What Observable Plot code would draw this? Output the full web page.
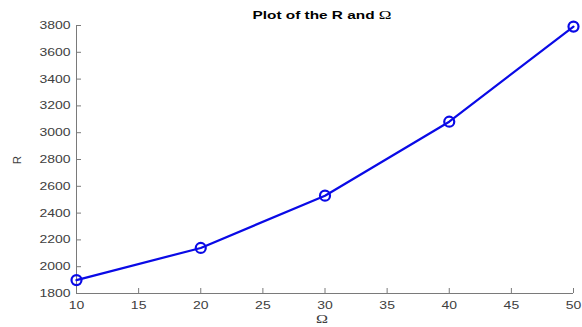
<!DOCTYPE html>
<html>
<head>
<meta charset="utf-8">
<script src="https://cdn.jsdelivr.net/npm/d3@7"></script>
<script src="https://cdn.jsdelivr.net/npm/@observablehq/plot@0.6"></script>
<style>
  html, body { margin: 0; padding: 0; background: #fff; }
  #chart { position: relative; width: 582px; height: 327px; }
  .serif { font-family: "Liberation Serif", "DejaVu Serif", serif; font-weight: normal; }
</style>
</head>
<body>
<div id="chart"></div>
<script>
const omega = [10, 20, 30, 40, 50];
const rValues = [1900, 2140, 2530, 3082, 3792];
const xTicks = [10, 15, 20, 25, 30, 35, 40, 45, 50];
const yTicks = [1800, 2000, 2200, 2400, 2600, 2800, 3000, 3200, 3400, 3600, 3800];
const titleText = "Plot of the R and ";
const titleSymbol = "Ω";
const xLabel = "Ω";
const yLabel = "R";

const data = omega.map((x, i) => ({x, y: rValues[i]}));
const axisColor = "#7a7a7a";
const textColor = "#404040";
const blue = "#0a0ae6";
const fmt = d3.format("d");

const plot = Plot.plot({
  width: 582,
  height: 327,
  marginLeft: 76,
  marginRight: 9,
  marginTop: 25,
  marginBottom: 34,
  style: {fontFamily: "'Liberation Sans', Arial, sans-serif", fontSize: "11px", color: textColor, background: "#fff"},
  x: {domain: [10, 50]},
  y: {domain: [1800, 3800]},
  marks: [
    Plot.ruleX([10], {stroke: axisColor, strokeWidth: 1}),
    Plot.ruleY([1800], {stroke: axisColor, strokeWidth: 1}),
    Plot.axisX({ticks: xTicks, tickSize: -5, stroke: axisColor, text: null, label: null}),
    Plot.axisX({ticks: xTicks, tickSize: 0, tickPadding: 8, fill: textColor, label: null, tickFormat: fmt, fontSize: 11}),
    Plot.axisY({ticks: yTicks, tickSize: -5, stroke: axisColor, text: null, label: null}),
    Plot.axisY({ticks: yTicks, tickSize: 0, tickPadding: 6, fill: textColor, label: null, tickFormat: fmt, fontSize: 11}),
    Plot.line(data, {x: "x", y: "y", stroke: blue, strokeWidth: 2.2}),
    Plot.dot(data, {x: "x", y: "y", r: 5, stroke: blue, strokeWidth: 2.2, fill: "none"})
  ]
});
document.getElementById("chart").appendChild(plot);

const svg = d3.select(plot);
// widen tick label glyphs to match the horizontally stretched reference
svg.selectAll("g[aria-label$='tick label'] text").each(function() {
  const len = this.getComputedTextLength();
  this.setAttribute("textLength", len * 1.27);
  this.setAttribute("lengthAdjust", "spacingAndGlyphs");
});

const t = svg.append("text")
  .attr("x", 322).attr("y", 19)
  .attr("text-anchor", "middle")
  .attr("font-weight", "bold")
  .attr("font-size", 10.8)
  .attr("fill", "#000")
  .attr("textLength", 139)
  .attr("lengthAdjust", "spacingAndGlyphs");
t.append("tspan").text(titleText);
t.append("tspan").attr("class", "serif").attr("font-size", 12).text(titleSymbol);

svg.append("text")
  .attr("x", 322).attr("y", 323)
  .attr("text-anchor", "middle")
  .attr("class", "serif")
  .attr("font-size", 12)
  .attr("fill", textColor)
  .attr("textLength", 12)
  .attr("lengthAdjust", "spacingAndGlyphs")
  .text(xLabel);

svg.append("text")
  .attr("transform", "translate(21,160) rotate(-90)")
  .attr("text-anchor", "middle")
  .attr("font-size", 11.5)
  .attr("fill", textColor)
  .text(yLabel);
</script>
</body>
</html>
